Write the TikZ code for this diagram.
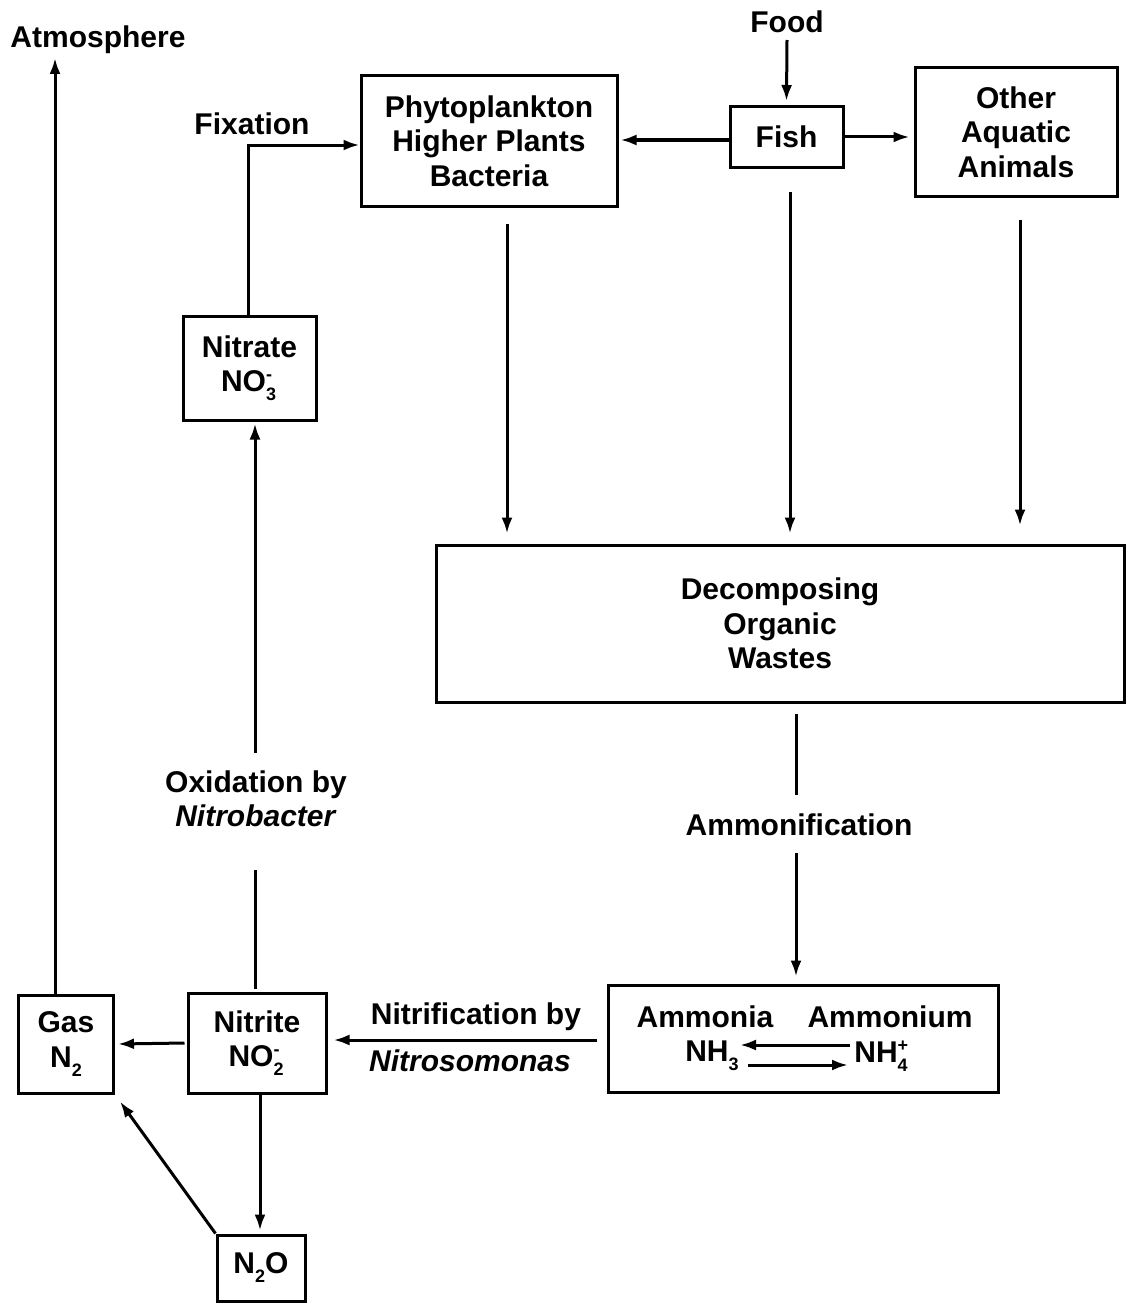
\documentclass[tikz,border=0pt]{standalone}
\usepackage{fontspec}
\setmainfont{Liberation Sans}
\usetikzlibrary{arrows.meta,calc}
\newcommand\subsup[2]{\makebox[0.4em][l]{\rlap{\raisebox{-0.3em}{\fontsize{18}{18}\selectfont #1}}\raisebox{0.36em}{\fontsize{18}{18}\selectfont #2}}}
\newcommand\sbs[1]{\raisebox{-0.3em}{\fontsize{18}{18}\selectfont #1}}
\begin{document}
\begin{tikzpicture}[x=1pt,y=-1pt,
  every node/.style={font=\bfseries\fontsize{30}{34.5}\selectfont, inner sep=0pt, align=center},
  box/.style={draw, line width=3pt},
  lab/.style={},
  ln/.style={line width=3pt},
  arr/.style={line width=3pt, -{Latex[length=16pt,width=11pt]}}]
\useasboundingbox (0,0) rectangle (1126,1303);
% boxes
\node[box, minimum width=256pt, minimum height=130pt] (phyto) at (489,141) {Phytoplankton\\Higher Plants\\Bacteria};
\node[box, minimum width=113pt, minimum height=61pt] (fish) at (786.5,137) {Fish};
\node[box, minimum width=202pt, minimum height=128pt] (other) at (1016,132) {Other\\Aquatic\\Animals};
\node[box, minimum width=133pt, minimum height=104pt] (nitrate) at (249.5,368) {Nitrate\\NO\subsup{3}{-}};
\node[box, minimum width=688pt, minimum height=157pt] (decomp) at (780,623.5) {Decomposing\\Organic\\Wastes};
\node[box, minimum width=390pt, minimum height=107pt] (amm) at (803,1038.5) {};
\node[box, minimum width=138pt, minimum height=100pt] (nitrite) at (257,1043) {Nitrite\\NO\subsup{2}{-}};
\node[box, minimum width=95pt, minimum height=98pt] (gas) at (66,1044) {Gas\\N\sbs{2}};
\node[box, minimum width=88pt, minimum height=66pt] (n2o) at (261,1268) {N\sbs{2}O};
% labels
\node[lab] (atm) at (98,40) {Atmosphere};
\node[lab] (food) at (787,22) {Food};
\node[lab] (fix) at (252,124) {Fixation};
\node[lab] (oxid) at (256,799) {Oxidation by\\\textit{Nitrobacter}};
\node[lab] (ammon) at (799,825) {Ammonification};
\node[lab] (nitrif1) at (476,1017) {Nitrification by};
\node[lab] (nitrif2) at (470,1061) {\textit{Nitrosomonas}};
\node[lab] (ammonia) at (705,1017) {Ammonia};
\node[lab] (ammonium) at (890,1017) {Ammonium};
\node[lab] (nh3) at (712,1056) {NH\sbs{3}};
\node[lab] (nh4) at (882,1056) {NH\subsup{4}{+}};
% coordinates
\coordinate (atmtip) at (55,58);
\coordinate (foodtail) at (787,40);
\coordinate (amtop) at (796,795);
\coordinate (ambot) at (796,853);
\coordinate (oxbot) at (255,870);
\coordinate (oxtop) at (255,753);
\coordinate (nh3l) at (740,1045);
\coordinate (nh4l) at (850,1045);
\coordinate (nh3r) at (748,1065);
\coordinate (nh4r) at (848,1065);
% connectors
\draw[arr] (gas.north -| atmtip) -- (atmtip);
\draw[arr] ($(nitrate.north)+(-1.5,0)$) |- ($(phyto.west)+(0,4)$);
\draw[arr] (foodtail) -- ($(fish.north)+(0,-4)$);
\draw[arr] ($(fish.west)+(0,3)$) -- ($(fish.west -| phyto.east)+(2,3)$);
\draw[arr] (fish.east) -- ($(fish.east -| other.west)+(-4,0)$);
\draw[arr] ($(phyto.south)+(18,16)$) -- ($(decomp.north)+(-273,-10)$);
\draw[arr] ($(fish.south)+(3.5,23)$) -- ($(decomp.north)+(10,-10)$);
\draw[arr] ($(other.south)+(4,22)$) -- ($(decomp.north)+(240,-18)$);
\draw[ln] ($(decomp.south)+(16,10)$) -- (amtop);
\draw[arr] (ambot) -- ($(amm.north)+(-7,-7)$);
\draw[arr] ($(amm.west)+(-10,1.5)$) -- ($(nitrite.east)+(6,-3)$);
\draw[arr] ($(nitrite.west)+(-2,0)$) -- ($(gas.east)+(3,0)$);
\draw[arr] ($(nitrite.south)+(3,0)$) -- ($(n2o.north)+(-1,-3)$);
\draw[arr] (n2o.north west) -- ($(gas.south east)+(5,7)$);
\draw[ln] ($(nitrite.north)+(-2,-3)$) -- (oxbot);
\draw[arr] (oxtop) -- ($(nitrate.south)+(5.5,2)$);
\draw[arr] (nh4l) -- (nh3l);
\draw[arr] (nh3r) -- (nh4r);
\end{tikzpicture}
\end{document}
